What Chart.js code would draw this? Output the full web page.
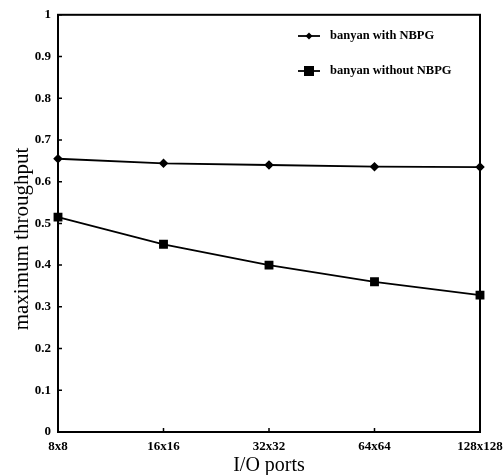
<!DOCTYPE html>
<html>
<head>
<meta charset="utf-8">
<script src="https://cdn.jsdelivr.net/npm/chart.js@4/dist/chart.umd.min.js"></script>
<style>
  html, body { margin: 0; padding: 0; background: #fff; }
  #wrap { width: 503px; height: 475px; }
</style>
</head>
<body>
<div id="wrap"><canvas id="chart"></canvas></div>
<script>
const ports = ['8x8', '16x16', '32x32', '64x64', '128x128'];
const withNBPG = [0.655, 0.644, 0.640, 0.636, 0.635];
const withoutNBPG = [0.515, 0.450, 0.400, 0.360, 0.328];
const yTicks = [0, 0.1, 0.2, 0.3, 0.4, 0.5, 0.6, 0.7, 0.8, 0.9, 1];
const yTitle = 'maximum throughput';

const tickFont = { family: 'Liberation Serif', size: 13, weight: 'bold' };

// box round the plot, inner tick marks, y title and the legend inside the plot
const framePlugin = {
    id: 'frame',
    afterDraw(chart) {
        let c = chart.ctx;
        let a = chart.chartArea;
        let xs = chart.scales.x, ys = chart.scales.y;
        c.save();
        c.strokeStyle = '#000';
        c.lineWidth = 2;
        c.strokeRect(a.left, a.top, a.right - a.left, a.bottom - a.top);
        c.lineWidth = 1.5;
        c.beginPath();
        yTicks.forEach(v => {
            let y = ys.getPixelForValue(v);
            c.moveTo(a.left, y);
            c.lineTo(a.left + 4, y);
        });
        ports.forEach((p, i) => {
            let x = xs.getPixelForValue(i);
            c.moveTo(x, a.bottom);
            c.lineTo(x, a.bottom - 4);
        });
        c.stroke();

        // y title sits a bit below the middle in the original
        c.save();
        c.translate(22, 239);
        c.rotate(-Math.PI / 2);
        c.fillStyle = '#000';
        c.font = '21px "Liberation Serif"';
        c.textAlign = 'center';
        c.textBaseline = 'middle';
        c.fillText(yTitle, 0, 0);
        c.restore();

        // legend
        let lx = 298, ly = [36, 71];
        chart.data.datasets.forEach((ds, i) => {
            let y = ly[i];
            c.strokeStyle = '#000';
            c.lineWidth = 1.8;
            c.beginPath();
            c.moveTo(lx, y);
            c.lineTo(lx + 22, y);
            c.stroke();
            c.fillStyle = '#000';
            let r = ds.pointRadius;
            if (ds.pointStyle === 'rect') {
                c.fillRect(lx + 11 - r, y - r, 2 * r, 2 * r);
            } else {
                c.beginPath();
                c.moveTo(lx + 11, y - r);
                c.lineTo(lx + 11 + r, y);
                c.lineTo(lx + 11, y + r);
                c.lineTo(lx + 11 - r, y);
                c.closePath();
                c.fill();
            }
            c.font = 'bold 12.5px "Liberation Serif"';
            c.textBaseline = 'middle';
            c.textAlign = 'left';
            c.fillText(ds.label, lx + 32, y);
        });
        c.restore();
    }
};

new Chart(document.getElementById('chart'), {
    type: 'line',
    data: {
        labels: ports,
        datasets: [{
            label: 'banyan with NBPG',
            data: withNBPG,
            borderColor: '#000',
            backgroundColor: '#000',
            borderWidth: 1.8,
            pointStyle: 'rectRot',
            pointRadius: 3.5,
            tension: 0
        }, {
            label: 'banyan without NBPG',
            data: withoutNBPG,
            borderColor: '#000',
            backgroundColor: '#000',
            borderWidth: 1.8,
            pointStyle: 'rect',
            pointRadius: 5,
            tension: 0
        }]
    },
    options: {
        responsive: true,
        maintainAspectRatio: false,
        animation: false,
        layout: { padding: { top: 13, right: 0, left: 0, bottom: 0 } },
        plugins: { legend: { display: false }, tooltip: { enabled: false } },
        scales: {
            x: {
                offset: false,
                grid: { display: false, drawTicks: false },
                border: { display: false },
                ticks: { color: '#000', font: tickFont, padding: 7, maxRotation: 0, autoSkip: false },
                title: { display: true, text: 'I/O ports', color: '#000', font: { family: 'Liberation Serif', size: 20 }, padding: { top: 0, bottom: -3 } },
                afterFit(scale) { scale.height = 43; scale.paddingRight = 23; }
            },
            y: {
                min: 0,
                max: 1,
                afterBuildTicks(scale) { scale.ticks = yTicks.map(v => ({ value: v })); },
                grid: { display: false, drawTicks: false },
                border: { display: false },
                ticks: {
                    color: '#000', font: tickFont, padding: 7,
                    callback: v => String(Math.round(v * 10) / 10)
                },
                title: { display: false },
                afterFit(scale) { scale.width = 58; }
            }
        }
    },
    plugins: [framePlugin]
});
</script>
</body>
</html>
